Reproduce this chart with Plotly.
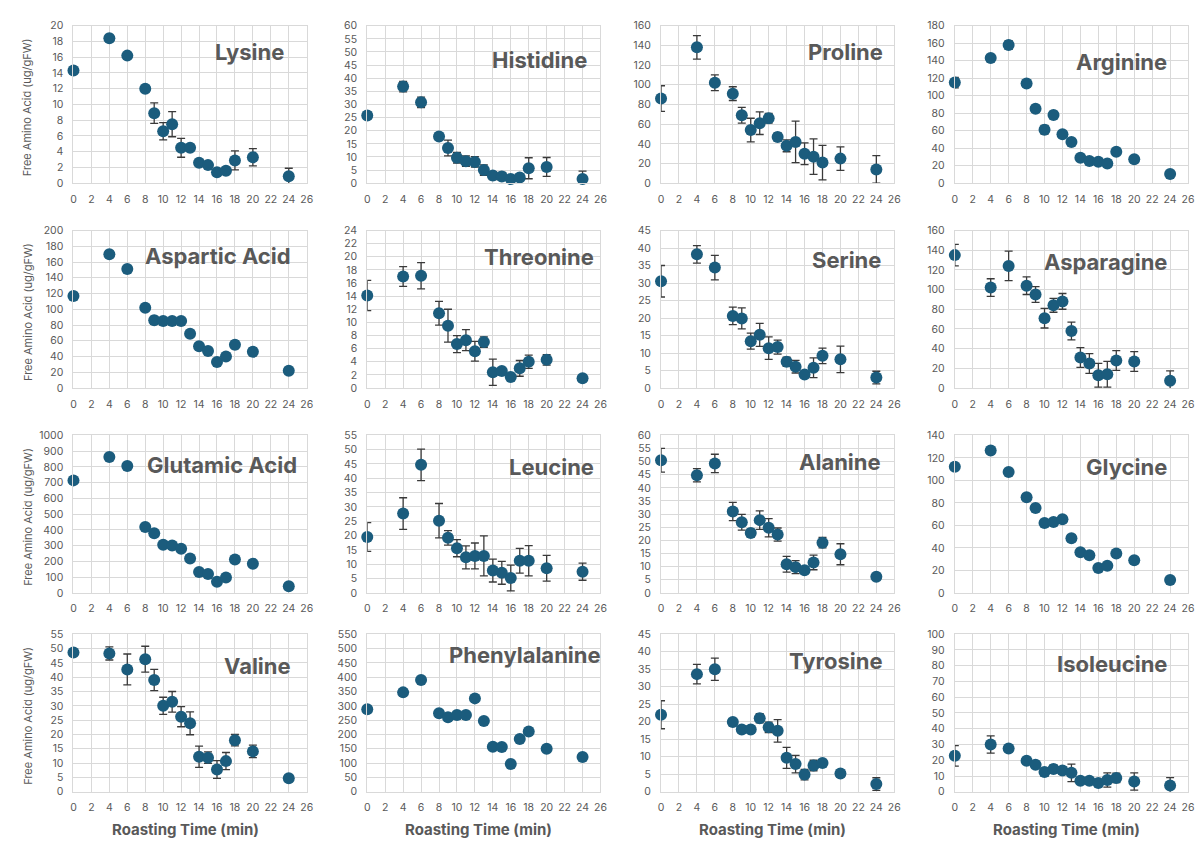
import plotly.graph_objects as go

W, H = 1201, 848

# Roasting time (min)
roast_time = [0, 4, 6, 8, 9, 10, 11, 12, 13, 14, 15, 16, 17, 18, 20, 24]

lysine = [14.3, 18.4, 16.2, 12.0, 8.9, 6.6, 7.5, 4.5, 4.5, 2.6, 2.3, 1.4, 1.6, 2.9, 3.3, 0.9]
lysine_err = [0.3, 0.3, 0.3, 0.4, 1.3, 1.1, 1.6, 1.2, 0.3, 0.3, 0.4, 0.3, 0.4, 1.2, 1.1, 1.0]

histidine = [25.8, 36.8, 30.8, 17.8, 13.4, 9.7, 8.4, 8.1, 5.0, 2.9, 2.6, 1.6, 2.2, 5.7, 6.2, 1.6]
histidine_err = [1.5, 2.0, 2.0, 1.0, 3.0, 2.0, 2.0, 2.0, 2.0, 1.5, 1.5, 1.0, 1.2, 4.0, 3.6, 3.0]

proline = [86, 138, 102, 91, 69, 54, 61, 66, 47, 38, 42, 30, 27, 21, 25, 14]
proline_err = [13, 12, 8, 7, 8, 12, 11.5, 5, 4, 6, 21, 11, 18, 17.5, 12, 14]

arginine = [115, 143, 158, 114, 85, 61, 78, 56, 47, 29, 25.5, 24.5, 22.5, 36, 27.5, 10.5]
arginine_err = [6, 4, 5, 4, 4, 5, 4, 3, 3, 3, 2.5, 2.5, 2, 3, 3, 3.5]

aspartic = [117, 170, 151, 102, 86, 85, 85, 85, 69, 53, 47, 33, 40, 55, 46, 22]
aspartic_err = [4, 4, 3, 3, 5, 3, 3, 3, 3, 3, 3, 3, 4, 5, 5, 4]

threonine = [14.1, 17.0, 17.1, 11.4, 9.5, 6.7, 7.3, 5.6, 7.0, 2.4, 2.6, 1.7, 3.0, 4.0, 4.3, 1.5]
threonine_err = [2.3, 1.5, 2.0, 1.8, 2.5, 1.3, 1.6, 1.5, 0.8, 2.0, 0.5, 0.4, 1.2, 1.0, 0.8, 0.3]

serine = [30.5, 38.2, 34.4, 20.6, 19.9, 13.4, 15.2, 11.4, 11.7, 7.5, 6.1, 3.9, 5.8, 9.2, 8.2, 3.0]
serine_err = [4.5, 2.5, 3.5, 2.5, 3.0, 2.3, 3.3, 3.2, 2.0, 1.3, 1.8, 0.8, 2.8, 2.2, 3.8, 1.8]

asparagine = [135, 102, 124, 104, 95, 71, 84, 88, 58, 31, 25, 13, 14, 28, 27, 7.5]
asparagine_err = [11, 9, 15, 9, 8, 10, 7, 8, 9, 10, 10, 12, 13, 10, 10, 10]

glutamic = [714, 862, 805, 418, 378, 305, 300, 280, 218, 132, 120, 70, 98, 212, 185, 42]
glutamic_err = [12, 10, 15, 12, 10, 10, 10, 10, 10, 10, 10, 10, 10, 12, 12, 8]

leucine = [19.5, 27.7, 44.7, 25.2, 19.2, 15.6, 12.4, 12.9, 12.9, 7.8, 7.0, 5.2, 11.2, 11.2, 8.6, 7.4]
leucine_err = [5.0, 5.5, 5.5, 6.0, 2.5, 3.0, 4.0, 4.5, 7.0, 4.0, 4.0, 4.5, 4.3, 5.3, 4.5, 3.0]

alanine = [50.5, 44.8, 49.3, 31.0, 26.9, 22.8, 27.7, 24.8, 22.2, 10.9, 9.8, 8.6, 11.6, 19.1, 14.7, 6.1]
alanine_err = [4.5, 2.5, 3.5, 3.5, 3.0, 1.5, 3.5, 3.5, 2.5, 3.0, 2.5, 1.0, 2.8, 2.0, 4.0, 1.0]

glycine = [112, 126.5, 107.5, 85, 75.5, 62, 63, 65.5, 48.5, 36, 33.5, 22, 24, 35, 29, 11.5]
glycine_err = [2.5, 2, 2, 3, 3, 2, 2, 2, 3, 2, 2, 2, 2, 3, 3, 3]

valine = [48.6, 48.3, 42.7, 46.3, 39.0, 30.0, 31.4, 26.2, 23.9, 12.2, 11.9, 7.8, 10.7, 18.0, 14.1, 4.7]
valine_err = [0.5, 2.3, 5.4, 4.5, 3.7, 3.0, 3.6, 3.5, 4.0, 3.7, 2.0, 3.1, 3.0, 2.0, 2.2, 1.0]

phenylalanine = [288, 347, 390, 274, 260, 268, 268, 326, 247, 157, 156, 97, 184, 210, 150, 121]
phenylalanine_err = [5, 5, 5, 5, 5, 5, 5, 5, 5, 5, 5, 5, 5, 5, 5, 5]

tyrosine = [22.0, 33.6, 35.0, 19.9, 17.8, 17.8, 21.0, 18.4, 17.4, 9.7, 7.9, 4.9, 7.5, 8.2, 5.2, 2.2]
tyrosine_err = [4.0, 2.8, 3.2, 1.0, 1.0, 1.0, 1.3, 1.5, 3.2, 3.0, 2.5, 1.5, 1.5, 1.0, 1.0, 1.8]

isoleucine = [22.8, 30.0, 27.5, 19.7, 17.2, 12.5, 14.5, 13.5, 12.0, 7.0, 7.0, 5.5, 7.5, 8.8, 6.5, 4.0]
isoleucine_err = [6.5, 5.5, 1.5, 1.5, 2.0, 2.5, 2.5, 2.5, 5.5, 1.5, 1.5, 1.5, 4.5, 3.0, 5.5, 5.0]

names = ["Lysine", "Histidine", "Proline", "Arginine",
         "Aspartic Acid", "Threonine", "Serine", "Asparagine",
         "Glutamic Acid", "Leucine", "Alanine", "Glycine",
         "Valine", "Phenylalanine", "Tyrosine", "Isoleucine"]
values = [lysine, histidine, proline, arginine,
          aspartic, threonine, serine, asparagine,
          glutamic, leucine, alanine, glycine,
          valine, phenylalanine, tyrosine, isoleucine]
errors = [lysine_err, histidine_err, proline_err, arginine_err,
          aspartic_err, threonine_err, serine_err, asparagine_err,
          glutamic_err, leucine_err, alanine_err, glycine_err,
          valine_err, phenylalanine_err, tyrosine_err, isoleucine_err]
y_max = [20, 60, 160, 180, 200, 24, 45, 160, 1000, 55, 60, 140, 55, 550, 45, 100]
y_step = [2, 5, 20, 20, 20, 2, 5, 20, 100, 5, 5, 20, 5, 50, 5, 10]

# layout (styling) parameters
col_left = [71, 367, 663, 959]
row_top = [20, 228, 436, 638]
pw, ph = 235, 160
title_x = [0.91, 0.95, 0.96, 0.92, 0.94, 0.98, 0.95, 0.92, 0.966, 0.98, 0.95, 0.92, 0.94, 1.01, 0.96, 0.92]
title_y = [0.83, 0.78, 0.83, 0.77, 0.84, 0.83, 0.81, 0.80, 0.81, 0.80, 0.83, 0.80, 0.80, 0.87, 0.83, 0.81]

MARK = "#1b5c7d"
GRID = "#d9d9d9"
TXT = "#595959"
FONT = "Inter"

fig = go.Figure()
layout = {}
annotations = []
for i in range(16):
    r, c = divmod(i, 4)
    n = "" if i == 0 else str(i + 1)
    x0 = col_left[c] / W
    x1 = (col_left[c] + pw) / W
    ytop = row_top[r]
    y1 = 1 - ytop / H
    y0 = 1 - (ytop + ph) / H
    fig.add_trace(go.Scatter(
        x=roast_time, y=values[i], mode="markers",
        xaxis="x" + n, yaxis="y" + n,
        marker=dict(color=MARK, size=12),
        error_y=dict(type="data", array=errors[i], visible=True,
                     color="#3a3a3a", thickness=1.3, width=4),
        cliponaxis=False, showlegend=False,
    ))
    layout["xaxis" + n] = dict(
        domain=[x0, x1], anchor="y" + n, range=[0, 26], dtick=2, tick0=0,
        showgrid=True, gridcolor=GRID, gridwidth=1, zeroline=False,
        showline=True, linecolor=GRID, mirror=True, ticks="",
        ticklabelstandoff=6,
        tickfont=dict(family=FONT, size=10.5, color=TXT),
    )
    layout["yaxis" + n] = dict(
        domain=[y0, y1], anchor="x" + n, range=[0, y_max[i]], dtick=y_step[i], tick0=0,
        showgrid=True, gridcolor=GRID, gridwidth=1, zeroline=False,
        showline=True, linecolor=GRID, mirror=True, ticks="",
        ticklabelstandoff=7,
        tickfont=dict(family=FONT, size=10.5, color=TXT),
    )
    annotations.append(dict(
        text=names[i], xref="x" + n + " domain", yref="y" + n + " domain",
        x=title_x[i], y=title_y[i], xanchor="right", yanchor="middle",
        showarrow=False,
        font=dict(family=FONT, size=22, color=TXT, weight="bold"),
    ))
    if c == 0:
        annotations.append(dict(
            text="Free Amino Acid (ug/gFW)", xref="paper", yref="paper",
            x=25 / W, y=1 - (ytop + ph / 2 + 3) / H, xanchor="center", yanchor="middle",
            textangle=-90, showarrow=False,
            font=dict(family=FONT, size=11, color=TXT),
        ))
    if r == 3:
        annotations.append(dict(
            text="Roasting Time (min)", xref="paper", yref="paper",
            x=(col_left[c] + pw / 2 - 5) / W, y=1 - 836 / H,
            xanchor="center", yanchor="middle", showarrow=False,
            font=dict(family=FONT, size=15, color=TXT, weight="bold"),
        ))

fig.update_layout(
    width=W, height=H, margin=dict(l=0, r=0, t=0, b=0),
    paper_bgcolor="white", plot_bgcolor="white",
    annotations=annotations, **layout,
)
fig.write_html("out.html")
